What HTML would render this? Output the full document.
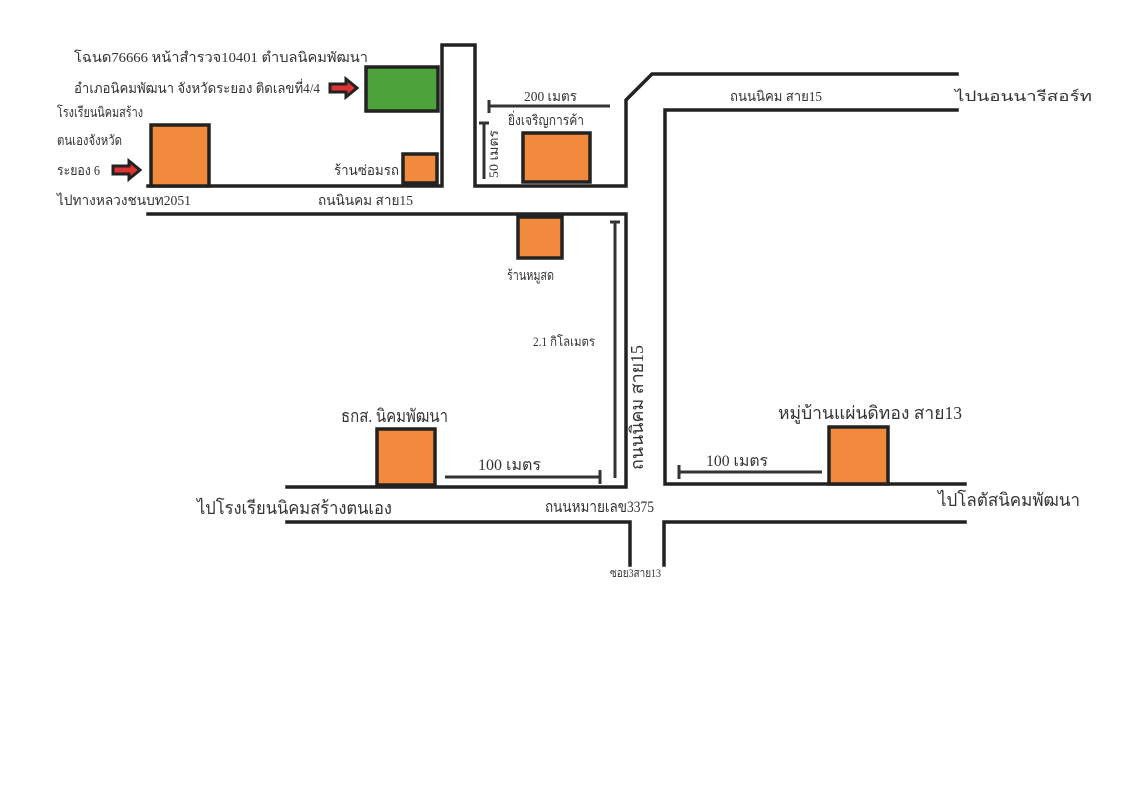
<!DOCTYPE html>
<html><head><meta charset="utf-8"><style>
html,body{margin:0;padding:0;background:#fff;width:1139px;height:800px;overflow:hidden}
svg text{font-family:"Liberation Serif","DejaVu Serif","DejaVu Sans",serif;fill:#333}
</style></head><body>
<svg width="1139" height="800" viewBox="0 0 1139 800" xmlns="http://www.w3.org/2000/svg">
<g stroke="#222" stroke-width="3.5" fill="none" stroke-linecap="square">
<polyline points="148,186 442,186 442,45 475,45 475,186 626,186 626,100 652,74 957,74"/>
<polyline points="148,214 626,214 626,487 287,487"/>
<polyline points="957,110 665,110 665,484 965,484"/>
<polyline points="287,522 630,522 630,565"/>
<polyline points="965,522 664,522 664,565"/>
</g>
<g stroke="#222" stroke-width="3.5">
<rect x="366" y="67" width="72" height="44" fill="#4ea23a"/>
<rect x="151" y="125" width="58" height="61" fill="#f28a3e"/>
<rect x="403" y="154" width="34" height="29" fill="#f28a3e"/>
<rect x="523" y="133" width="67" height="49" fill="#f28a3e"/>
<rect x="518" y="217" width="44" height="41" fill="#f28a3e"/>
<rect x="377" y="429" width="58" height="56" fill="#f28a3e"/>
<rect x="829" y="427" width="59" height="57" fill="#f28a3e"/>
</g>
<g stroke="#333" stroke-width="3">
<line x1="489" y1="106" x2="610" y2="106"/><line x1="489" y1="100" x2="489" y2="113"/>
<line x1="484" y1="123" x2="484" y2="179"/><line x1="479" y1="123" x2="489" y2="123"/>
<line x1="615" y1="222" x2="615" y2="478"/><line x1="610" y1="222" x2="620" y2="222"/>
<line x1="445" y1="477" x2="600" y2="477"/><line x1="600" y1="470" x2="600" y2="484"/>
<line x1="679" y1="472" x2="822" y2="472"/><line x1="679" y1="465" x2="679" y2="479"/>
</g>
<g>
<path d="M330,84 h16 v-5 l11,9 l-11,9 v-5 h-16z" fill="#d33" stroke="#222" stroke-width="3"/>
<path d="M113,166 h16 v-5 l11,9 l-11,9 v-5 h-16z" fill="#d33" stroke="#222" stroke-width="3"/>
</g>
<g font-size="14" lengthAdjust="spacingAndGlyphs">
<text x="74" y="62" textLength="294" lengthAdjust="spacingAndGlyphs">โฉนด76666 หน้าสำรวจ10401 ตำบลนิคมพัฒนา</text>
<text x="74" y="93" textLength="246" lengthAdjust="spacingAndGlyphs">อำเภอนิคมพัฒนา จังหวัดระยอง ติดเลขที่4/4</text>
<text x="57" y="117" textLength="86" lengthAdjust="spacingAndGlyphs">โรงเรียนนิคมสร้าง</text>
<text x="57" y="145" textLength="65" lengthAdjust="spacingAndGlyphs">ตนเองจังหวัด</text>
<text x="57" y="175" textLength="43" lengthAdjust="spacingAndGlyphs">ระยอง 6</text>
<text x="57" y="205" textLength="134" lengthAdjust="spacingAndGlyphs">ไปทางหลวงชนบท2051</text>
<text x="334" y="175" textLength="65" lengthAdjust="spacingAndGlyphs">ร้านซ่อมรถ</text>
<text x="318" y="205" textLength="95" lengthAdjust="spacingAndGlyphs">ถนนินคม สาย15</text>
<text x="524" y="101" textLength="53" lengthAdjust="spacingAndGlyphs">200 เมตร</text>
<text x="508" y="125" textLength="76" lengthAdjust="spacingAndGlyphs">ยิ่งเจริญการค้า</text>
<text x="730" y="101" textLength="92" lengthAdjust="spacingAndGlyphs">ถนนนิคม สาย15</text>
<text x="955" y="101" textLength="137" lengthAdjust="spacingAndGlyphs">ไปนอนนารีสอร์ท</text>
<text x="507" y="280" textLength="47" lengthAdjust="spacingAndGlyphs">ร้านหมูสด</text>
<text x="533" y="346" font-size="13" textLength="62" lengthAdjust="spacingAndGlyphs">2.1 กิโลเมตร</text>
<text x="341" y="422" font-size="18" textLength="107" lengthAdjust="spacingAndGlyphs">ธกส. นิคมพัฒนา</text>
<text x="778" y="419" font-size="18" textLength="184" lengthAdjust="spacingAndGlyphs">หมู่บ้านแผ่นดิทอง สาย13</text>
<text x="478" y="470" font-size="16" textLength="63" lengthAdjust="spacingAndGlyphs">100 เมตร</text>
<text x="706" y="466" font-size="16" textLength="62" lengthAdjust="spacingAndGlyphs">100 เมตร</text>
<text x="197" y="514" font-size="18" textLength="195" lengthAdjust="spacingAndGlyphs">ไปโรงเรียนนิคมสร้างตนเอง</text>
<text x="545" y="512" font-size="16" textLength="109" lengthAdjust="spacingAndGlyphs">ถนนหมายเลข3375</text>
<text x="938" y="506" font-size="18" textLength="142" lengthAdjust="spacingAndGlyphs">ไปโลตัสนิคมพัฒนา</text>
<text x="610" y="577" font-size="12" textLength="51" lengthAdjust="spacingAndGlyphs">ซอย3สาย13</text>
<text transform="translate(498,178) rotate(-90)" font-size="13" textLength="48" lengthAdjust="spacingAndGlyphs">50 เมตร</text>
<text transform="translate(643,470) rotate(-90)" font-size="18" textLength="125" lengthAdjust="spacingAndGlyphs">ถนนนิคม สาย15</text>
</g>
</svg>
</body></html>
